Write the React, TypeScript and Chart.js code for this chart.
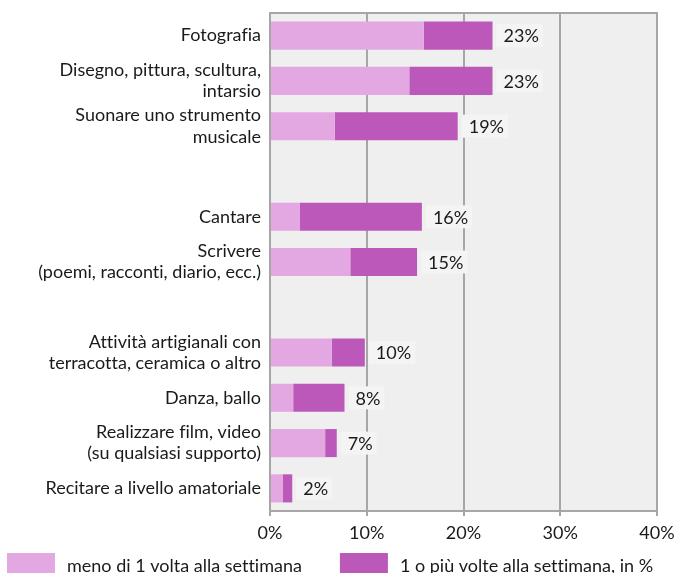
import React, { useEffect, useRef } from "react";
import { Chart, registerables } from "chart.js";

Chart.register(...registerables);

const categories: (string | string[])[] = [
  "Fotografia",
  ["Disegno, pittura, scultura,", "intarsio"],
  ["Suonare uno strumento", "musicale"],
  "",
  "Cantare",
  ["Scrivere", "(poemi, racconti, diario, ecc.)"],
  "",
  ["Attività artigianali con", "terracotta, ceramica o altro"],
  "Danza, ballo",
  ["Realizzare film, video", "(su qualsiasi supporto)"],
  "Recitare a livello amatoriale",
];

const lessThanWeekly: (number | null)[] = [15.9, 14.4, 6.7, null, 3.1, 8.3, null, 6.4, 2.4, 5.7, 1.3];
const weeklyOrMore: (number | null)[] = [7.1, 8.6, 12.7, null, 12.6, 6.9, null, 3.4, 5.3, 1.2, 1.0];
const totalLabels: string[] = ["23%", "23%", "19%", "", "16%", "15%", "", "10%", "8%", "7%", "2%"];

const seriesNames = ["meno di 1 volta alla settimana", "1 o più volte alla settimana, in %"];
const xTicks = [0, 10, 20, 30, 40];

const FONT = "Lato";
const TEXT = "#1a1a1a";
const GRID = "#a6a6a6";
const LIGHT = "#E3A8E2";
const DARK = "#BC58BA";

export default function App() {
  const ref = useRef<HTMLCanvasElement | null>(null);

  useEffect(() => {
    if (!ref.current) return;

    const bgPlugin = {
      id: "plotBg",
      beforeDraw(chart: any) {
        const { ctx, chartArea: a } = chart;
        try {
          (ctx as any).textRendering = "optimizeSpeed";
        } catch (e) {}
        ctx.save();
        ctx.fillStyle = "#EFEFEF";
        ctx.fillRect(a.left, a.top, a.right - a.left, a.bottom - a.top);
        ctx.restore();
      },
      afterDatasetsDraw(chart: any) {
        const { ctx, chartArea: a } = chart;
        const meta = chart.getDatasetMeta(1);
        ctx.save();
        ctx.font = `18px ${FONT}`;
        ctx.textBaseline = "middle";
        ctx.textAlign = "left";
        meta.data.forEach((el: any, i: number) => {
          const txt = totalLabels[i];
          if (!txt) return;
          const endX = el.x;
          const w = ctx.measureText(txt).width;
          ctx.fillStyle = "#F4F4F4";
          ctx.fillRect(endX + 4, el.y - 11.5, w + 11, 23);
          ctx.fillStyle = TEXT;
          ctx.fillText(txt, endX + 11, el.y + 1);
        });
        ctx.strokeStyle = GRID;
        ctx.lineWidth = 2;
        ctx.strokeRect(a.left, a.top, a.right - a.left, a.bottom - a.top);
        ctx.restore();
      },
      afterDraw(chart: any) {
        const { ctx } = chart;
        ctx.save();
        ctx.font = `18px ${FONT}`;
        ctx.textBaseline = "middle";
        ctx.textAlign = "left";
        let x = 7;
        const y = 566;
        chart.data.datasets.forEach((ds: any) => {
          ctx.fillStyle = ds.backgroundColor;
          ctx.fillRect(x, 553, 48, 24);
          ctx.fillStyle = TEXT;
          ctx.fillText(ds.label, x + 60, y);
          x += 60 + ctx.measureText(ds.label).width + 38;
        });
        ctx.restore();
      },
    };

    const chart = new Chart(ref.current, {
      type: "bar",
      data: {
        labels: categories,
        datasets: [
          {
            label: seriesNames[0],
            data: lessThanWeekly,
            backgroundColor: LIGHT,
            barPercentage: 0.62,
            categoryPercentage: 1,
          },
          {
            label: seriesNames[1],
            data: weeklyOrMore,
            backgroundColor: DARK,
            barPercentage: 0.62,
            categoryPercentage: 1,
          },
        ],
      },
      options: {
        indexAxis: "y",
        animation: false,
        responsive: false,
        maintainAspectRatio: false,
        events: [],
        layout: { padding: { top: 13, right: 18, bottom: 26, left: 0 } },
        plugins: {
          legend: { display: false },
          tooltip: { enabled: false },
        },
        scales: {
          x: {
            stacked: true,
            min: 0,
            max: 40,
            afterBuildTicks(scale: any) {
              scale.ticks = xTicks.map((v) => ({ value: v }));
            },
            afterFit(scale: any) {
              scale.height = 36;
              scale.paddingLeft = 0;
              scale.paddingRight = 0;
            },
            ticks: {
              callback: (v: any) => `${v}%`,
              color: TEXT,
              font: { family: FONT, size: 18 },
              padding: 6,
              maxRotation: 0,
            },
            grid: {
              color: GRID,
              lineWidth: 2,
              drawTicks: true,
              tickLength: 5,
            },
            border: { display: true, color: GRID, width: 2 },
          },
          y: {
            stacked: true,
            afterFit(scale: any) {
              scale.width = 270;
              scale.paddingTop = 0;
              scale.paddingBottom = 0;
            },
            ticks: {
              color: TEXT,
              font: { family: FONT, size: 18, lineHeight: 1.17 },
              padding: 9,
              autoSkip: false,
            },
            grid: { display: false, drawTicks: false },
            border: { display: true, color: GRID, width: 2 },
          },
        },
      },
      plugins: [bgPlugin],
    });

    return () => chart.destroy();
  }, []);

  return (
    <div style={{ position: "fixed", left: 0, top: 0, width: 675, height: 573, overflow: "hidden", background: "#fff" }}>
      <canvas ref={ref} width={675} height={573} style={{ display: "block", width: 675, height: 573 }} />
    </div>
  );
}
